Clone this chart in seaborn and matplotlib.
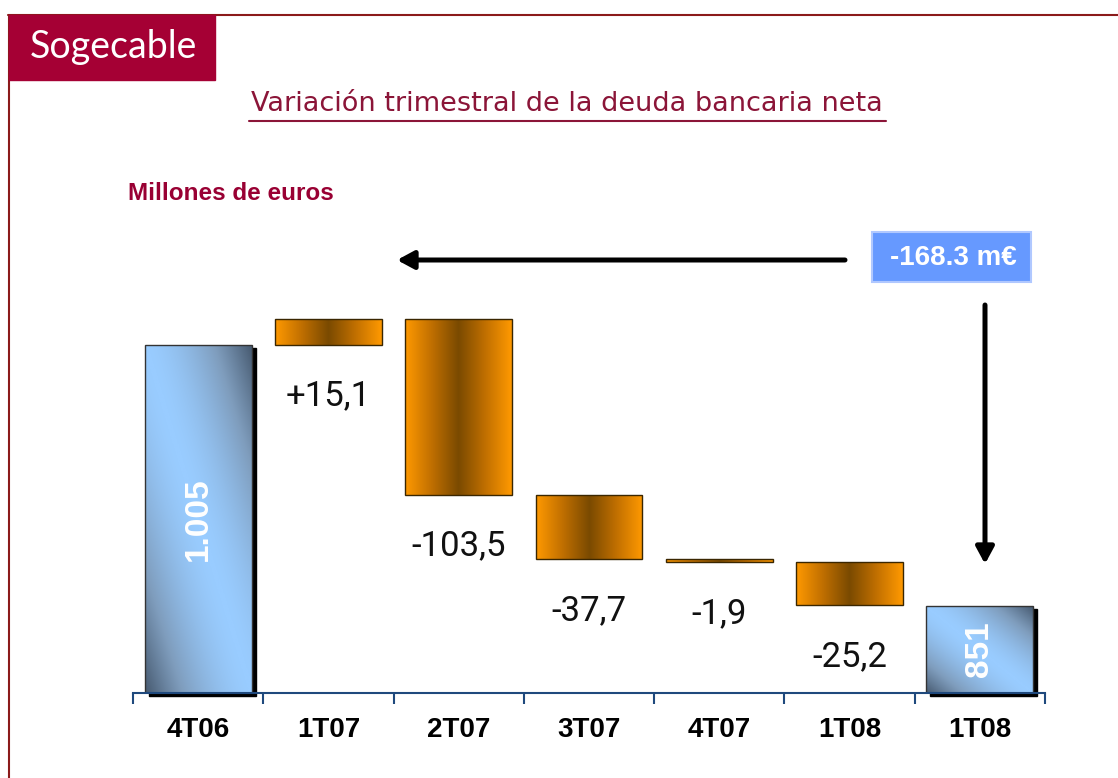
import numpy as np
import matplotlib

matplotlib.use('Agg')
import matplotlib.pyplot as plt
import matplotlib.transforms as mtransforms
from matplotlib.colors import LinearSegmentedColormap
from matplotlib.patches import Rectangle, FancyArrowPatch
import seaborn as sns

# data
categories = ['4T06', '1T07', '2T07', '3T07', '4T07', '1T08', '1T08']
start_debt = 1005
end_debt = 851
changes = [15.1, -103.5, -37.7, -1.9, -25.2]
change_labels = ['+15,1', '-103,5', '-37,7', '-1,9', '-25,2']
total_labels = ['1.005', '851']
total_change_label = '-168.3 m€'

W, H = 1118, 778
Y_FLOOR, Y_TOP = 800, 1070

sns.set_theme(style='white')
plt.rcParams['font.family'] = ['Liberation Sans', 'DejaVu Sans']

fig = plt.figure(figsize=(W / 100, H / 100), dpi=100)


def fpx(x, y):
    # pixel position (top-left origin) -> figure fraction
    return x / W, 1 - y / H


# running levels of the waterfall
levels = start_debt + np.cumsum(changes)
prev = np.concatenate([[start_debt], levels[:-1]])
bottoms = [Y_FLOOR] + list(np.minimum(prev, levels)) + [Y_FLOOR]
tops = [start_debt] + list(np.maximum(prev, levels)) + [end_debt]
heights = np.array(tops) - np.array(bottoms)
kinds = ['total'] + ['change'] * len(changes) + ['total']

ax_left, ax_bottom = fpx(133, 693)
ax_h = (Y_TOP - Y_FLOOR) * 1.70 / H
ax = fig.add_axes([ax_left, ax_bottom, (1045 - 133) / W, ax_h])

pos = np.arange(len(categories))
sns.barplot(x=pos, y=heights, color='#99ccff', width=0.82, ax=ax,
            edgecolor='#2a2a2a', linewidth=1)

blue_cmap = LinearSegmentedColormap.from_list('bl', ['#46596f', '#7f9dbd', '#99ccff'])
orange_cmap = LinearSegmentedColormap.from_list('or', ['#ff9900', '#c06f00', '#7a4a00'])
shadow_tr = mtransforms.offset_copy(ax.transData, fig=fig, x=4, y=-3, units='dots')

for i, p in enumerate(ax.patches[:len(categories)]):
    p.set_y(bottoms[i])
    p.set_height(heights[i])
    x0, w = p.get_x(), p.get_width()
    y0, y1 = bottoms[i], tops[i]
    n = 200
    xn = np.linspace(0, 1, n)[None, :]
    yn = np.linspace(1, 0, n)[:, None]
    if kinds[i] == 'total':
        grad = 1 - np.clip(np.abs(xn + yn - 1), 0, 1) ** 1.6
        cmap = blue_cmap
        ax.add_patch(Rectangle((x0, y0), w, y1 - y0, color='black',
                               transform=shadow_tr, zorder=1, clip_on=False))
        p.set_edgecolor('#333333')
    else:
        grad = np.repeat(1 - np.abs(xn - 0.5) * 2, n, axis=0)
        cmap = orange_cmap
        p.set_edgecolor('#3a2600')
    p.set_facecolor('none')
    p.set_zorder(3)
    im = ax.imshow(grad, extent=[x0, x0 + w, y0, y1], cmap=cmap, vmin=0, vmax=1,
                   aspect='auto', zorder=2, interpolation='bilinear')
    im.set_clip_path(p)

# labels for the quarterly changes
for j, lab in enumerate(change_labels):
    i = j + 1
    ax.annotate(lab, (i, bottoms[i]), xytext=(0, -37), textcoords='offset points',
                ha='center', va='center', fontsize=25, color='#111111',
                family=['Roboto', 'DejaVu Sans'])

# labels inside the debt bars
for i, lab in zip([0, len(categories) - 1], total_labels):
    ax.text(i, (bottoms[i] + tops[i]) / 2, lab, rotation=90, ha='center', va='center',
            color='white', fontsize=24, fontweight='bold', zorder=5)

ax.set_xlim(-0.5, len(categories) - 0.5)
ax.set_ylim(Y_FLOOR, Y_TOP)
ax.set_xticks(pos)
ax.set_xticklabels(categories, fontsize=20, fontweight='bold', color='black')
ax.set_xticks(np.arange(-0.5, len(categories)), minor=True)
ax.tick_params(axis='x', which='major', length=0, pad=17)
ax.tick_params(axis='x', which='minor', length=8, width=1.5, color='#1f497d',
               direction='out', bottom=True)
ax.set_yticks([])
ax.set_xlabel('')
ax.set_ylabel('')
for s in ['left', 'right', 'top']:
    ax.spines[s].set_visible(False)
ax.spines['bottom'].set_color('#1f497d')
ax.spines['bottom'].set_linewidth(1.5)
ax.spines['bottom'].set_zorder(6)
ax.patch.set_alpha(0)

# page frame and logo
fig.add_artist(plt.Line2D([fpx(8, 0)[0], 1], [fpx(0, 15)[1]] * 2, color='#8b1a1a', lw=1.5))
fig.add_artist(plt.Line2D([fpx(9, 0)[0]] * 2, [fpx(0, 15)[1], 0], color='#8b1a1a', lw=1.5))
lx, ly = fpx(9, 80)
fig.add_artist(Rectangle((lx, ly), 206 / W, 65 / H, transform=fig.transFigure,
                         color='#a50034', zorder=2))
fig.text(*fpx(113, 47), 'Sogecable', color='white', fontsize=27, ha='center', va='center',
         family=['Lato', 'DejaVu Sans'], zorder=3)

fig.text(*fpx(567, 104), 'Variación trimestral de la deuda bancaria neta',
         color='#8b1538', fontsize=19.5, ha='center', va='center',
         family=['DejaVu Sans'])
fig.add_artist(plt.Line2D([fpx(249, 0)[0], fpx(886, 0)[0]], [fpx(0, 121)[1]] * 2,
                          color='#8b1538', lw=1.5))

fig.text(*fpx(128, 194), 'Millones de euros', color='#990033', fontsize=17.5,
         fontweight='bold', ha='left', va='center')

# total change box and arrows
bx, by = fpx(872, 282)
fig.add_artist(Rectangle((bx, by), 159 / W, 50 / H, transform=fig.transFigure,
                         facecolor='#6699ff', edgecolor='#b0c8ff', lw=1.5))
fig.text(*fpx(953, 258), total_change_label, color='white', fontsize=20,
         fontweight='bold', ha='center', va='center')

arrow_kw = dict(arrowstyle='-|>,head_length=0.5,head_width=0.27', color='black', lw=3.6,
                transform=fig.transFigure, mutation_scale=20, shrinkA=0, shrinkB=0)
fig.add_artist(FancyArrowPatch(fpx(845, 260), fpx(397, 260), **arrow_kw))
fig.add_artist(FancyArrowPatch(fpx(985, 305), fpx(985, 564), **arrow_kw))

fig.savefig('out.png', dpi=100)
